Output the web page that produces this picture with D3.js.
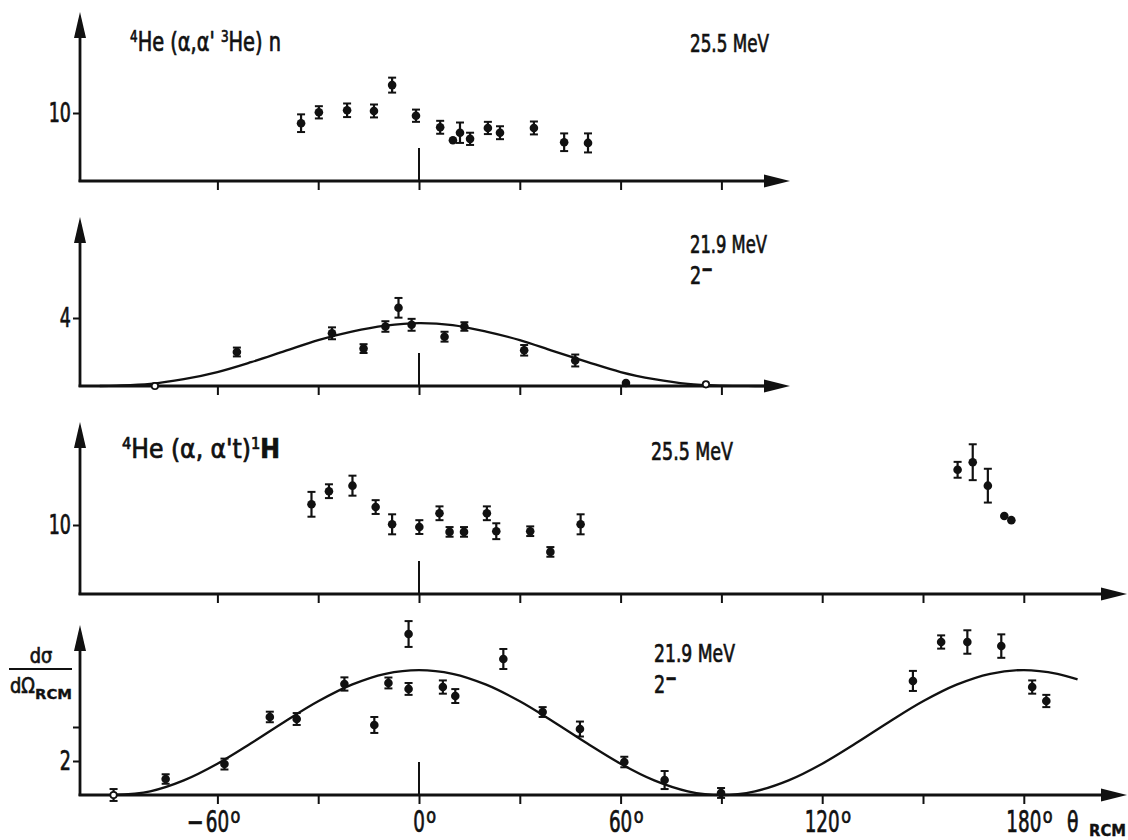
<!DOCTYPE html>
<html>
<head>
<meta charset="utf-8">
<script src="https://cdn.jsdelivr.net/npm/d3@7"></script>
<style>
  html, body { margin: 0; padding: 0; background: #fff; }
  svg { display: block; }
  text { font-family: "DejaVu Sans Condensed", "DejaVu Sans", sans-serif; fill: #111; stroke: #111; stroke-width: 0.7px; }
</style>
</head>
<body>
<svg id="chart" width="1128" height="840"></svg>
<script>
// ---- angular axis (theta_RCM, degrees) ----
const angleTicks = [-60, -30, 0, 30, 60, 90, 120, 150, 180];
const angleTicksShort = [-60, -30, 0, 30, 60, 90];
const angleLabels = [-60, 0, 60, 120, 180];

// ---- 4He(a,a' 3He)n, 25.5 MeV ----
const he3Angle = [-35.1, -29.8, -21.4, -13.4, -8.0, -0.9, 6.3, 10.1, 12.2, 15.2, 20.5, 24.1, 34.2, 43.2, 50.3];
const he3Value = [8.5, 10.1, 10.4, 10.3, 14.1, 9.6, 7.9, 6.0, 7.1, 6.2, 7.8, 7.1, 7.8, 5.7, 5.6];
const he3Error = [1.3, 0.9, 1.0, 0.95, 1.1, 0.9, 0.95, 0, 1.5, 0.9, 0.9, 0.95, 0.95, 1.3, 1.4];

// ---- 4He(a,a' 3He)n, 21.9 MeV 2- level ----
const he3LevelAngle = [-78.6, -54.2, -25.9, -16.5, -10.0, -6.1, -2.2, 7.6, 13.5, 31.3, 46.5, 61.6, 85.4];
const he3LevelValue = [0.0, 2.0, 3.1, 2.2, 3.5, 4.6, 3.6, 2.9, 3.5, 2.1, 1.5, 0.18, 0.1];
const he3LevelError = [0, 0.26, 0.35, 0.26, 0.31, 0.58, 0.35, 0.29, 0.25, 0.31, 0.35, 0, 0];
const he3LevelOpen  = [true, false, false, false, false, false, false, false, false, false, false, false, true];
const he3FitAngle = [-95, -90, -80, -70, -60, -50, -40, -30, -20, -10, 0, 10, 20, 30, 40, 50, 60, 70, 80, 90, 100, 108];
const he3FitValue = [0, 0.02, 0.12, 0.4, 0.82, 1.4, 2.05, 2.7, 3.2, 3.55, 3.7, 3.58, 3.2, 2.7, 2.05, 1.42, 0.82, 0.4, 0.12, 0.02, 0, 0];

// ---- 4He(a,a't)1H, 25.5 MeV ----
const tAngle = [-32.0, -26.8, -19.8, -12.9, -8.0, 0.1, 6.1, 9.1, 13.4, 20.2, 23.0, 33.1, 39.1, 48.1, 160.3, 164.8, 169.3, 174.2, 176.3];
const tValue = [13.0, 14.9, 15.7, 12.6, 10.1, 9.7, 11.7, 9.0, 9.0, 11.7, 9.1, 9.1, 6.1, 10.1, 18.0, 19.1, 15.7, 11.3, 10.7];
const tError = [1.8, 1.0, 1.45, 1.0, 1.45, 1.0, 1.0, 0.7, 0.7, 1.0, 1.15, 0.7, 0.7, 1.45, 1.15, 2.6, 2.45, 0, 0];

// ---- 4He(a,a't)1H, 21.9 MeV 2- level ----
const tLevelAngle = [-90.9, -75.4, -57.9, -44.4, -36.4, -22.2, -13.3, -9.1, -3.1, -3.1, 7.1, 10.8, 25.1, 36.8, 47.9, 61.1, 73.1, 89.9, 147.0, 155.4, 163.2, 173.3, 182.5, 186.7];
const tLevelValue = [0, 0.94, 1.82, 4.59, 4.47, 6.53, 4.12, 6.59, 9.47, 6.24, 6.35, 5.82, 8.0, 4.88, 3.88, 1.94, 0.88, 0.12, 6.71, 9.0, 9.0, 8.76, 6.35, 5.53];
const tLevelError = [0.35, 0.28, 0.32, 0.31, 0.35, 0.39, 0.47, 0.32, 0.76, 0.35, 0.39, 0.41, 0.59, 0.29, 0.44, 0.31, 0.53, 0.29, 0.59, 0.39, 0.69, 0.69, 0.39, 0.36];
const tLevelOpen  = tLevelAngle.map((d, i) => i === 0);
const tFitAngle = [-91, -80, -70, -60, -50, -40, -30, -20, -10, 0, 10, 20, 30, 40, 50, 60, 70, 80, 90, 100, 110, 120, 130, 140, 150, 160, 170, 180, 190, 196];
const tFitValue = [0, 0.22, 0.86, 1.84, 3.04, 4.31, 5.51, 6.49, 7.13, 7.35, 7.13, 6.49, 5.51, 4.31, 3.04, 1.84, 0.86, 0.22, 0, 0.22, 0.86, 1.84, 3.04, 4.31, 5.51, 6.49, 7.13, 7.35, 7.13, 6.8];

// ---- layout ----
const svg = d3.select("#chart");
const ink = "#111";
const axisX = 80;
const x = d3.scaleLinear().domain([-90, 180]).range([116.6, 1023.8]);

// text squeezed horizontally to a given width (narrow lettering)
function label(xp, yp, parts, size, opts = {}) {
  const g = svg.append("g");
  const t = g.append("text").attr("font-size", size).attr("text-anchor", opts.anchor || "start")
    .style("white-space", "pre");
  if (opts.bold) t.attr("font-weight", "bold").style("stroke-width", "0.3px");
  parts.forEach(pt => {
    const s = t.append("tspan").text(pt.t);
    if (pt.sup) s.attr("font-size", size * (pt.k || 0.62)).attr("baseline-shift", pt.shift || "55%");
    if (pt.bold) s.attr("font-weight", "bold");
  });
  const natural = t.node().getComputedTextLength();
  const s = opts.width ? opts.width / natural : (opts.sx || 1);
  g.attr("transform", `translate(${xp},${yp}) scale(${s},1)`);
  return natural * s;
}

const panels = [
  { base: 181, tip: 12,  xEnd: 790,  yMax: 10, yPx: 68, yTicks: [10], yLabelled: [10], xTicks: angleTicksShort,
    angle: he3Angle, value: he3Value, error: he3Error },
  { base: 386, tip: 217, xEnd: 790,  yMax: 4,  yPx: 68, yTicks: [4],  yLabelled: [4], xTicks: angleTicksShort,
    angle: he3LevelAngle, value: he3LevelValue, error: he3LevelError, open: he3LevelOpen,
    fitAngle: he3FitAngle, fitValue: he3FitValue },
  { base: 594, tip: 422, xEnd: 1127, yMax: 10, yPx: 69, yTicks: [10], yLabelled: [10], xTicks: angleTicks,
    angle: tAngle, value: tValue, error: tError },
  { base: 795, tip: 625, xEnd: 1127, yMax: 4,  yPx: 68, yTicks: [2, 4], yLabelled: [2], xTicks: angleTicks,
    angle: tLevelAngle, value: tLevelValue, error: tLevelError, open: tLevelOpen,
    fitAngle: tFitAngle, fitValue: tFitValue }
];

panels.forEach(p => {
  const g = svg.append("g");
  const y = d3.scaleLinear().domain([0, p.yMax]).range([p.base, p.base - p.yPx]);

  // axis lines with arrowheads
  g.append("line").attr("x1", axisX).attr("x2", axisX).attr("y1", p.base + 1).attr("y2", p.tip + 20)
    .attr("stroke", ink).attr("stroke-width", 2.8);
  g.append("path").attr("d", `M${axisX},${p.tip} L${axisX - 6},${p.tip + 26} L${axisX + 6},${p.tip + 26} Z`)
    .attr("fill", ink);
  g.append("line").attr("x1", axisX - 1.4).attr("x2", p.xEnd - 20).attr("y1", p.base).attr("y2", p.base)
    .attr("stroke", ink).attr("stroke-width", 2.8);
  g.append("path").attr("d", `M${p.xEnd},${p.base} L${p.xEnd - 26},${p.base - 6.5} L${p.xEnd - 26},${p.base + 6.5} Z`)
    .attr("fill", ink);

  // angle ticks below the baseline
  const xa = g.append("g").attr("transform", `translate(0,${p.base})`)
    .call(d3.axisBottom(x).tickValues(p.xTicks).tickSize(9).tickFormat(""));
  xa.select(".domain").remove();
  xa.selectAll(".tick line").attr("stroke", ink).attr("stroke-width", 2);

  // 0 degree marker above the baseline
  g.append("line").attr("x1", x(0)).attr("x2", x(0)).attr("y1", p.base).attr("y2", p.base - 33)
    .attr("stroke", ink).attr("stroke-width", 2);

  // value ticks
  const sx = 0.72;
  const ya = g.append("g").attr("transform", `translate(${axisX},0)`)
    .call(d3.axisLeft(y).tickValues(p.yTicks).tickSize(7).tickPadding(2)
      .tickFormat(d => p.yLabelled.includes(d) ? d : ""));
  ya.select(".domain").remove();
  ya.selectAll(".tick line").attr("stroke", ink).attr("stroke-width", 2);
  ya.selectAll(".tick text").attr("font-size", 27).attr("fill", ink)
    .attr("x", -9 / sx).attr("transform", `scale(${sx},1)`)
    .style("font-family", "'DejaVu Sans Condensed','DejaVu Sans',sans-serif")
    .style("stroke", ink).style("stroke-width", "0.7px");

  // fitted angular correlation
  if (p.fitAngle) {
    const line = d3.line().x((d, i) => x(p.fitAngle[i])).y((d, i) => y(p.fitValue[i]))
      .curve(d3.curveCatmullRom.alpha(0.5));
    g.append("path").datum(p.fitAngle).attr("d", line)
      .attr("fill", "none").attr("stroke", ink).attr("stroke-width", 2.3);
  }

  // data points with error bars
  const pts = g.append("g").selectAll("g").data(p.angle).join("g")
    .attr("transform", (d, i) => `translate(${x(d)},${y(p.value[i])})`);
  pts.each(function (d, i) {
    const e = p.error[i];
    if (e > 0) {
      const sel = d3.select(this);
      const dy = y(p.value[i] - e) - y(p.value[i]);
      sel.append("line").attr("x1", 0).attr("x2", 0).attr("y1", -dy).attr("y2", dy)
        .attr("stroke", ink).attr("stroke-width", 2.2);
      [-dy, dy].forEach(v => sel.append("line").attr("x1", -4).attr("x2", 4).attr("y1", v).attr("y2", v)
        .attr("stroke", ink).attr("stroke-width", 2));
    }
  });
  pts.append("circle").attr("r", (d, i) => p.open && p.open[i] ? 3.2 : 4.3)
    .attr("fill", (d, i) => p.open && p.open[i] ? "#fff" : ink)
    .attr("stroke", ink).attr("stroke-width", (d, i) => p.open && p.open[i] ? 1.8 : 0);
});

// ---- annotations ----
label(130, 51, [{ t: "4", sup: true }, { t: "He (α,α' " }, { t: "3", sup: true }, { t: "He) n" }], 26, { width: 151 });
label(690, 52, [{ t: "25.5 MeV" }], 25, { width: 79 });

label(690, 253, [{ t: "21.9 MeV" }], 25, { width: 77 });
label(690, 284, [{ t: "2" }, { t: "−", sup: true, bold: true, k: 0.8, shift: "40%" }], 25, { sx: 0.78 });

label(122, 458, [{ t: "4", sup: true }, { t: "He (α, α't)" }, { t: "1", sup: true }, { t: "H", bold: true }], 26, { width: 158 });
label(651, 460, [{ t: "25.5 MeV" }], 25, { width: 82 });

label(654, 662, [{ t: "21.9 MeV" }], 25, { width: 81 });
label(654, 693, [{ t: "2" }, { t: "−", sup: true, bold: true, k: 0.8, shift: "40%" }], 25, { sx: 0.78 });

// ordinate label  d sigma / d Omega_RCM
label(41, 663, [{ t: "dσ" }], 22, { anchor: "middle", sx: 0.9 });
svg.append("line").attr("x1", 9).attr("x2", 72).attr("y1", 669).attr("y2", 669).attr("stroke", ink).attr("stroke-width", 2);
label(10, 693, [{ t: "dΩ" }], 22, { width: 25 });
label(35, 699, [{ t: "RCM" }], 14, { bold: true, width: 37 });

// angle labels: digits centred on the tick, sign before, degree mark after
const digitScale = 0.68;
angleLabels.forEach(a => {
  const cx = x(a);
  const w = label(cx, 832, [{ t: String(Math.abs(a)) }], 30, { anchor: "middle", sx: digitScale });
  if (a < 0) label(cx - w / 2 - 2, 832, [{ t: "−" }], 30, { anchor: "end", sx: 0.75 });
  label(cx + w / 2 + 1.5, 823, [{ t: "o" }], 21, { sx: 0.85 });
});

// abscissa title
label(1067, 832, [{ t: "θ" }], 29, { sx: 0.72 });
label(1089, 836, [{ t: "RCM" }], 15, { bold: true, width: 37 });
</script>
</body>
</html>
